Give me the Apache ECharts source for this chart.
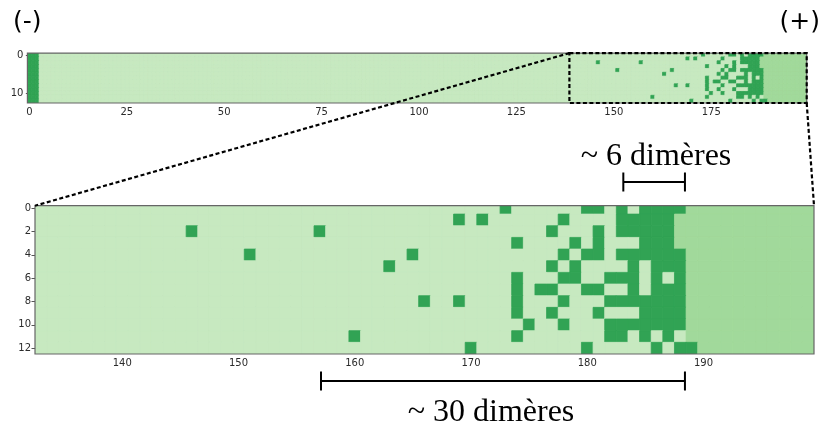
<!DOCTYPE html>
<html>
<head>
<meta charset="utf-8">
<script src="https://cdn.jsdelivr.net/npm/echarts@6/dist/echarts.min.js"></script>
<style>
  html, body { margin: 0; padding: 0; background: #fff; }
  #chart { width: 823px; height: 430px; }
</style>
</head>
<body>
<div id="chart"></div>
<script>
// 0 = clair, 1 = moyen, 2 = foncé
const colors = ['#c7e9c0', '#a1d99b', '#31a354']
const nCols = 200
const nRows = 13
const leftDarkCols = 3

// colonnes foncées, ligne par ligne (0 -> 12)
const darkCells = [
  [173, 180, 181, 183, 185, 186, 187, 188],
  [169, 171, 178, 183, 184, 185, 186, 187],
  [146, 157, 177, 181, 183, 184, 185, 186, 187],
  [174, 179, 181, 185, 186, 187],
  [151, 165, 178, 180, 181, 183, 184, 185, 186, 187, 188],
  [163, 177, 179, 184, 186, 187, 188],
  [174, 178, 179, 182, 183, 184, 186, 188],
  [174, 176, 177, 180, 181, 184, 186, 187, 188],
  [166, 169, 174, 178, 182, 183, 184, 185, 186, 187, 188],
  [174, 177, 181, 185, 186, 187, 188],
  [175, 178, 182, 183, 184, 185, 186, 187, 188],
  [160, 174, 182, 183, 185, 187],
  [170, 180, 186, 188, 189]
]
// première colonne de la zone "moyenne" à droite
const mediumStart = [189, 188, 188, 188, 189, 189, 189, 189, 189, 189, 189, 189, 190]

const topTicksX = [0, 25, 50, 75, 100, 125, 150, 175]
const topTicksY = [0, 10]
const zoomTicksX = [140, 150, 160, 170, 180, 190]
const zoomTicksY = [0, 2, 4, 6, 8, 10, 12]
const zoomX = [132.5, 199.5]
const zoomY = [-0.22, 12.5]
const boxX = [138.6, 199.5]
const bracketLong = [157.1, 188.4]
const bracketShort = [183.1, 188.4]

const cells = []
for (let r = 0; r < nRows; r++) {
  const dark = new Set(darkCells[r])
  for (let c = 0; c < nCols; c++) {
    let v = 0
    if (c < leftDarkCols || dark.has(c)) v = 2
    else if (c >= mediumStart[r]) v = 1
    cells.push([c, r, v])
  }
}
const zoomCells = cells.filter(d => d[0] >= Math.floor(zoomX[0]))

const renderCell = (params, api) => {
  const x = api.value(0)
  const y = api.value(1)
  const p0 = api.coord([x - 0.5, y - 0.5])
  const p1 = api.coord([x + 0.5, y + 0.5])
  const cs = params.coordSys
  const shape = echarts.graphic.clipRectByRect(
    {
      x: Math.min(p0[0], p1[0]),
      y: Math.min(p0[1], p1[1]),
      width: Math.abs(p1[0] - p0[0]),
      height: Math.abs(p1[1] - p0[1])
    },
    { x: cs.x, y: cs.y, width: cs.width, height: cs.height }
  )
  if (!shape) return
  const col = colors[api.value(2)]
  return { type: 'rect', shape, style: { fill: col, stroke: col, lineWidth: 0.8 } }
}

const tickLabel = { fontFamily: 'DejaVu Sans', fontSize: 10, color: '#2b2b2b', margin: 4 }
const tickLine = { show: true, length: 3.5, lineStyle: { color: '#555', width: 1 } }
const gridBase = { show: true, backgroundColor: colors[0], borderWidth: 0 }

const chart = echarts.init(document.getElementById('chart'), null, { renderer: 'canvas' })

const option = {
  backgroundColor: '#fff',
  animation: false,
  grid: [
    { ...gridBase, left: 27.4, top: 53.1, width: 779.3, height: 49.9 },
    { ...gridBase, left: 35, top: 205.7, width: 779, height: 148.3 }
  ],
  xAxis: [
    {
      gridIndex: 0, type: 'value', min: -0.5, max: 199.5,
      axisLine: { show: false }, splitLine: { show: false },
      axisTick: { ...tickLine, customValues: topTicksX },
      axisLabel: { ...tickLabel, customValues: topTicksX }
    },
    {
      gridIndex: 1, type: 'value', min: zoomX[0], max: zoomX[1],
      axisLine: { show: false }, splitLine: { show: false },
      axisTick: { ...tickLine, customValues: zoomTicksX },
      axisLabel: { ...tickLabel, customValues: zoomTicksX }
    }
  ],
  yAxis: [
    {
      gridIndex: 0, type: 'value', inverse: true, min: -0.5, max: 12.5,
      axisLine: { show: false }, splitLine: { show: false },
      axisTick: { ...tickLine, customValues: topTicksY },
      axisLabel: { ...tickLabel, customValues: topTicksY }
    },
    {
      gridIndex: 1, type: 'value', inverse: true, min: zoomY[0], max: zoomY[1],
      axisLine: { show: false }, splitLine: { show: false },
      axisTick: { ...tickLine, customValues: zoomTicksY },
      axisLabel: { ...tickLabel, customValues: zoomTicksY }
    }
  ],
  series: [
    {
      type: 'custom', xAxisIndex: 0, yAxisIndex: 0, silent: true, clip: true,
      renderItem: renderCell, encode: { x: 0, y: 1 }, data: cells
    },
    {
      type: 'custom', xAxisIndex: 1, yAxisIndex: 1, silent: true, clip: true,
      renderItem: renderCell, encode: { x: 0, y: 1 }, data: zoomCells
    }
  ]
}
chart.setOption(option)

// annotations : cadres, zoom en pointillés, crochets, textes
const g0 = p => chart.convertToPixel({ gridIndex: 0 }, p)
const g1 = p => chart.convertToPixel({ gridIndex: 1 }, p)

const frame = (a, b) => ({
  type: 'rect', z: 10,
  shape: { x: a[0], y: a[1], width: b[0] - a[0], height: b[1] - a[1] },
  style: { fill: null, stroke: '#666', lineWidth: 1.2 }
})
const dashed = { stroke: '#000', lineWidth: 2.2, lineDash: [4, 2.5], fill: null }

const topA = g0([-0.5, -0.5]), topB = g0([199.5, 12.5])
const zA = g1([zoomX[0], zoomY[0]]), zB = g1([zoomX[1], zoomY[1]])
const bA = g0([boxX[0], -0.5]), bB = g0([boxX[1], 12.5])

const bracket = (span, y) => {
  const x0 = g1([span[0], 0])[0], x1 = g1([span[1], 0])[0]
  const s = { stroke: '#000', lineWidth: 2 }
  return [
    { type: 'line', shape: { x1: x0, y1: y, x2: x1, y2: y }, style: s },
    { type: 'line', shape: { x1: x0, y1: y - 9.5, x2: x0, y2: y + 9.5 }, style: s },
    { type: 'line', shape: { x1: x1, y1: y - 9.5, x2: x1, y2: y + 9.5 }, style: s }
  ]
}

const serif = { fontFamily: 'Liberation Serif', fontSize: 32, fill: '#000', textAlign: 'center', textVerticalAlign: 'bottom' }
const sans = { fontFamily: 'DejaVu Sans', fontSize: 25, fill: '#000', textVerticalAlign: 'top' }

chart.setOption({
  graphic: [
    frame(topA, topB),
    frame(zA, zB),
    { type: 'rect', z: 11, shape: { x: bA[0], y: bA[1], width: bB[0] - bA[0], height: bB[1] - bA[1] }, style: dashed },
    { type: 'line', z: 11, shape: { x1: bA[0], y1: bA[1], x2: zA[0], y2: zA[1] }, style: dashed },
    { type: 'line', z: 11, shape: { x1: bB[0], y1: bB[1], x2: zB[0], y2: zA[1] }, style: dashed },
    ...bracket(bracketShort, 182),
    ...bracket(bracketLong, 381),
    { type: 'text', left: 13, top: 10, style: { ...sans, text: '(-)' } },
    { type: 'text', right: 3, top: 10, style: { ...sans, text: '(+)' } },
    { type: 'text', x: 656, y: 173, style: { ...serif, text: '~ 6 dimères' } },
    { type: 'text', x: 491, y: 429, style: { ...serif, text: '~ 30 dimères' } }
  ]
})
</script>
</body>
</html>
